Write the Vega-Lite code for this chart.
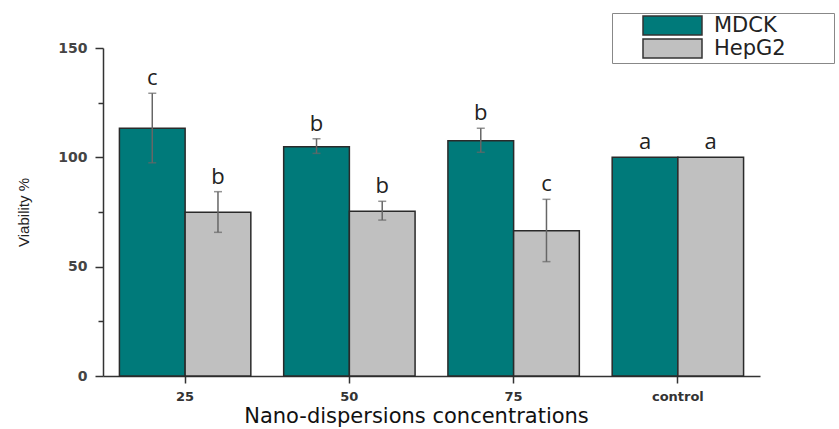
{
  "$schema": "https://vega.github.io/schema/vega-lite/v6.json",
  "width": 657,
  "height": 328,
  "autosize": {"type": "none"},
  "padding": {"left": 103, "top": 48, "right": 79, "bottom": 53},
  "background": "white",
  "config": {
    "view": {"stroke": null},
    "axis": {"grid": false}
  },
  "data": {
    "values": [
      {"conc": "25", "cell": "MDCK", "value": 113.3, "lo": 97.5, "hi": 129.3, "letter": "c"},
      {"conc": "25", "cell": "HepG2", "value": 74.9, "lo": 65.7, "hi": 84.3, "letter": "b"},
      {"conc": "50", "cell": "MDCK", "value": 104.8, "lo": 101.8, "hi": 108.5, "letter": "b"},
      {"conc": "50", "cell": "HepG2", "value": 75.4, "lo": 71.3, "hi": 79.9, "letter": "b"},
      {"conc": "75", "cell": "MDCK", "value": 107.6, "lo": 102.3, "hi": 113.3, "letter": "b"},
      {"conc": "75", "cell": "HepG2", "value": 66.4, "lo": 52.3, "hi": 80.8, "letter": "c"},
      {"conc": "control", "cell": "MDCK", "value": 100, "lo": null, "hi": null, "letter": "a"},
      {"conc": "control", "cell": "HepG2", "value": 100, "lo": null, "hi": null, "letter": "a"}
    ]
  },
  "encoding": {
    "x": {
      "field": "conc",
      "type": "nominal",
      "sort": ["25", "50", "75", "control"],
      "scale": {"paddingInner": 0.2, "paddingOuter": 0.1},
      "axis": {
        "title": "Nano-dispersions concentrations",
        "titleFont": "DejaVu Sans",
        "titleFontSize": 21,
        "titleFontWeight": "normal",
        "titleColor": "#111",
        "titlePadding": 2,
        "titleX": 313,
        "labelAngle": 0,
        "labelFont": "DejaVu Sans",
        "labelFontSize": 13,
        "labelFontWeight": "bold",
        "labelColor": "#333",
        "labelPadding": 7,
        "tickSize": 7,
        "tickColor": "#333",
        "tickWidth": 1.5,
        "domainColor": "#333",
        "domainWidth": 1.5
      }
    },
    "xOffset": {
      "field": "cell",
      "type": "nominal",
      "sort": ["MDCK", "HepG2"],
      "scale": {"paddingInner": 0, "paddingOuter": 0}
    }
  },
  "layer": [
    {
      "mark": {"type": "bar", "stroke": "#2a2a2a", "strokeWidth": 1.5},
      "encoding": {
        "y": {
          "field": "value",
          "type": "quantitative",
          "scale": {"domain": [0, 150], "nice": false},
          "axis": {
            "title": "Viability %",
            "titleFont": "Liberation Sans",
            "titleFontSize": 15,
            "titleFontWeight": "normal",
            "titleColor": "#222",
            "titlePadding": 26,
            "values": [0, 25, 50, 75, 100, 125, 150],
            "labelExpr": "datum.value % 50 === 0 ? datum.label : ''",
            "labelFont": "DejaVu Sans",
            "labelFontSize": 14,
            "labelFontWeight": "bold",
            "labelColor": "#444",
            "labelPadding": 8,
            "tickSize": {"condition": {"test": "datum.value % 50 === 0", "value": 8}, "value": 5},
            "tickColor": "#333",
            "tickWidth": 1.5,
            "domainColor": "#333",
            "domainWidth": 1.5
          }
        },
        "color": {
          "field": "cell",
          "type": "nominal",
          "sort": ["MDCK", "HepG2"],
          "scale": {"domain": ["MDCK", "HepG2"], "range": ["#007a7a", "#c0c0c0"]},
          "legend": {
            "title": null,
            "orient": "none",
            "legendX": 509,
            "legendY": -35,
            "direction": "vertical",
            "fillColor": "white",
            "strokeColor": "#888",
            "padding": 2,
            "symbolType": "M-3.105,-1H3.105V1H-3.105Z",
            "symbolSize": 361,
            "symbolStrokeColor": "#333",
            "symbolStrokeWidth": 1.5,
            "symbolOpacity": 1,
            "symbolOffset": 48,
            "labelFont": "DejaVu Sans",
            "labelFontSize": 21,
            "labelColor": "#222",
            "labelOffset": 31,
            "labelLimit": 400,
            "labelExpr": "datum.label + '\u2800\u2800\u2800'",
            "rowPadding": -8
          }
        }
      }
    },
    {
      "transform": [{"filter": "datum.lo != null"}],
      "mark": {"type": "rule", "color": "#666", "strokeWidth": 1.5},
      "encoding": {
        "y": {"field": "lo", "type": "quantitative"},
        "y2": {"field": "hi"}
      }
    },
    {
      "transform": [{"filter": "datum.lo != null"}],
      "mark": {"type": "tick", "color": "#666", "size": 8, "thickness": 1.5},
      "encoding": {
        "y": {"field": "lo", "type": "quantitative"}
      }
    },
    {
      "transform": [{"filter": "datum.hi != null"}],
      "mark": {"type": "tick", "color": "#666", "size": 8, "thickness": 1.5},
      "encoding": {
        "y": {"field": "hi", "type": "quantitative"}
      }
    },
    {
      "transform": [{"calculate": "datum.hi != null ? datum.hi : datum.value", "as": "top"}],
      "mark": {"type": "text", "font": "Open Sans", "fontSize": 22, "color": "#222", "baseline": "alphabetic", "dy": -8},
      "encoding": {
        "y": {"field": "top", "type": "quantitative"},
        "text": {"field": "letter"}
      }
    }
  ]
}
